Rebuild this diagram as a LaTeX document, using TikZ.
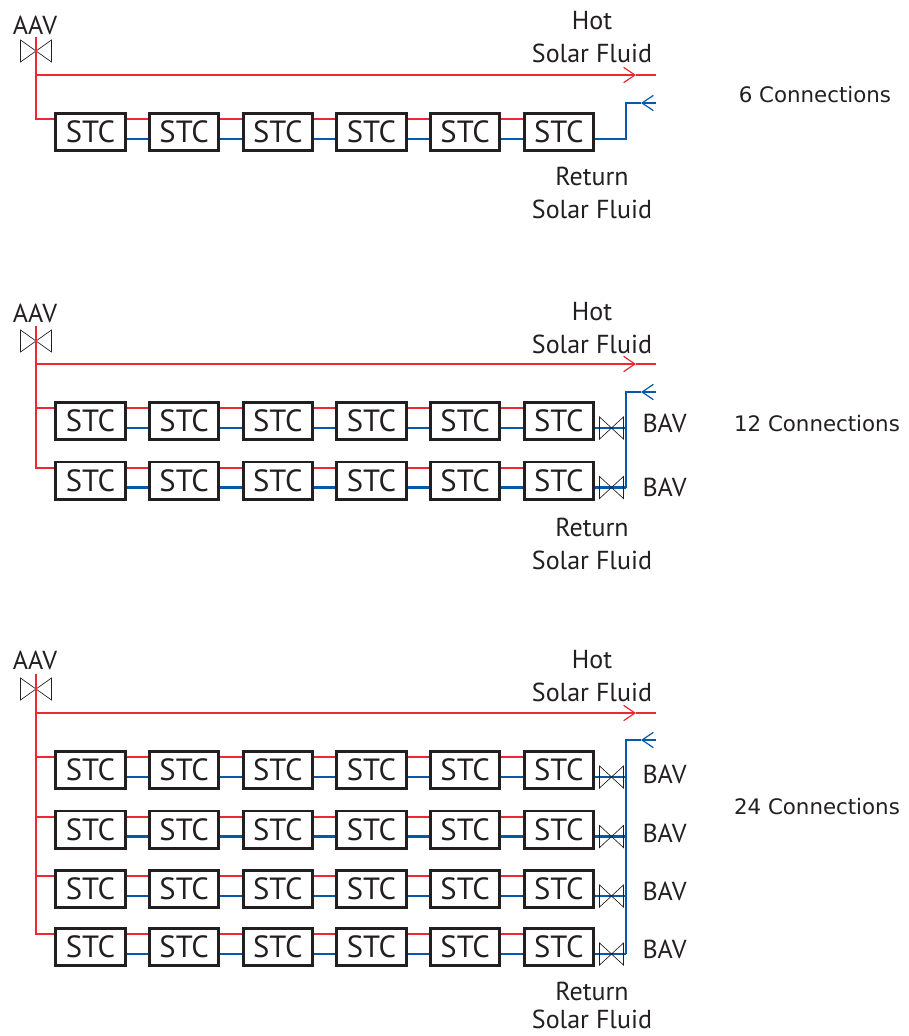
\documentclass[tikz,border=0pt]{standalone}
\usepackage{fontspec}
\setmainfont{PT Sans}
\newfontfamily\connfont{DejaVu Sans}
\usepackage{xcolor}
\usetikzlibrary{arrows.meta,positioning,calc}
\definecolor{hotred}{RGB}{237, 40, 52}
\definecolor{coldblue}{RGB}{5, 88, 170}
\definecolor{inkgrey}{RGB}{35, 31, 32}

% one row of six collectors, #1 = row name, #2 = y of the row centre
\newcommand{\stcrow}[2]{
    \node[stcbox] (#1a) at (90.5,#2) {STC};
    \node[stcbox, right=of #1a] (#1b) {STC};
    \node[stcbox, right=of #1b] (#1c) {STC};
    \node[stcbox, right=of #1c] (#1d) {STC};
    \node[stcbox, right=of #1d] (#1e) {STC};
    \node[stcbox, right=of #1e] (#1f) {STC};
    \foreach \p/\q in {a/b,b/c,c/d,d/e,e/f} {
      \draw[hotline] ([yshift=9.75pt]#1\p.east) -- ([yshift=9.75pt]#1\q.west);
      \draw[coldline] ([yshift=-5.25pt]#1\p.east) -- ([yshift=-5.25pt]#1\q.west);
    }
}
% balancing valve between a row and the return line
\newcommand{\bavrow}[3]{
    \coordinate (#1out) at ([yshift=-5.25pt]#1f.east);
    \draw[coldline] (#1out) -- (#1out -| #2);
    \pic[xscale=0.77] at ([xshift=12.4pt]#1out) {valve};
    \node[lbl] (#1bav) at (664.5,#3) {BAV};
}

\begin{document}
\begin{tikzpicture}[x=0.75pt, y=-0.75pt, node distance=16.05pt, >={Straight Barb[length=8.5pt,width=11.5pt,line width=0.9pt]},
    stcbox/.style={draw=inkgrey, line width=2.2pt, minimum width=52pt, minimum height=27.8pt, inner sep=0pt, text=inkgrey, font=\fontsize{23}{23}\selectfont},
    lbl/.style={inner sep=0pt, text=inkgrey, font=\fontsize{19.5}{19.5}\selectfont},
    conn/.style={inner sep=0pt, text=inkgrey, font=\connfont\fontsize{16}{16}\selectfont},
    hotline/.style={draw=hotred, line width=1.5pt},
    coldline/.style={draw=coldblue, line width=1.6pt},
    valve/.pic={\draw[inkgrey, line width=0.5pt] (-15.5,-11) -- (15.5,11) -- (15.5,-11) -- (-15.5,11) -- cycle;}]
    \useasboundingbox (0,0) rectangle (909,1036);

    % 6 connections
    \stcrow{ar}{132}
    \node[lbl] (aav1) at (35,25.5) {AAV};
    \node[lbl] (hot1) at (592,20.5) {Hot};
    \node[lbl] (hotfl1) at (592,53.5) {Solar Fluid};
    \node[lbl] (ret1) at (592,176.5) {Return};
    \node[lbl] (retfl1) at (592,209.5) {Solar Fluid};
    \node[conn] (conn1) at (815,95) {6 Connections};
    \pic at (36,51) {valve};
    \coordinate (top1) at (35.5,37);
    \coordinate (tee1) at (35.5,75);
    \coordinate (hottip1) at (636,75);
    \coordinate (hotend1) at (656,75);
    \coordinate (retend1) at (656,103);
    \coordinate (rettip1) at (641,103);
    \coordinate (retcor1) at (626,103);
    \draw[hotline] (top1) |- ([yshift=9.75pt]ara.west);
    \draw[hotline, ->] (tee1) -- (hottip1);
    \draw[hotline] (hottip1) -- (hotend1);
    \draw[coldline, ->] (retend1) -- (rettip1);
    \draw[coldline] (rettip1) -- (retcor1) |- ([yshift=-5.25pt]arf.east);

    % 12 connections
    \stcrow{br}{421}
    \stcrow{cr}{480.5}
    \node[lbl] (aav2) at (35,313.5) {AAV};
    \node[lbl] (hot2) at (592,311.5) {Hot};
    \node[lbl] (hotfl2) at (592,344.5) {Solar Fluid};
    \node[lbl] (ret2) at (592,527.5) {Return};
    \node[lbl] (retfl2) at (592,560.5) {Solar Fluid};
    \node[conn] (conn2) at (817,424) {12 Connections};
    \pic at (36,341) {valve};
    \coordinate (top2) at (35.5,326);
    \coordinate (tee2) at (35.5,364);
    \coordinate (hottip2) at (636,364);
    \coordinate (hotend2) at (656,364);
    \coordinate (retend2) at (656,392);
    \coordinate (rettip2) at (641,392);
    \coordinate (retcor2) at (626,392);
    \draw[hotline] (top2) |- ([yshift=9.75pt]cra.west);
    \draw[hotline] (top2 |- bra.west) ++(0,-13) -- ([yshift=9.75pt]bra.west);
    \draw[hotline, ->] (tee2) -- (hottip2);
    \draw[hotline] (hottip2) -- (hotend2);
    \draw[coldline, ->] (retend2) -- (rettip2);
    \bavrow{br}{retcor2}{423.5}
    \bavrow{cr}{retcor2}{487.5}
    \draw[coldline] (rettip2) -- (retcor2) -- (retcor2 |- crout);

    % 24 connections
    \stcrow{dr}{770}
    \stcrow{er}{829.5}
    \stcrow{fr}{889}
    \stcrow{gr}{947}
    \node[lbl] (aav3) at (35,660.5) {AAV};
    \node[lbl] (hot3) at (592,659.5) {Hot};
    \node[lbl] (hotfl3) at (592,692.5) {Solar Fluid};
    \node[lbl] (ret3) at (592,991.5) {Return};
    \node[lbl] (retfl3) at (592,1019.5) {Solar Fluid};
    \node[conn] (conn3) at (817,807) {24 Connections};
    \pic at (36,689) {valve};
    \coordinate (top3) at (35.5,674);
    \coordinate (tee3) at (35.5,713);
    \coordinate (hottip3) at (636,713);
    \coordinate (hotend3) at (656,713);
    \coordinate (retend3) at (656,740);
    \coordinate (rettip3) at (641,740);
    \coordinate (retcor3) at (626,740);
    \draw[hotline] (top3) |- ([yshift=9.75pt]gra.west);
    \draw[hotline] (top3 |- dra.west) ++(0,-13) -- ([yshift=9.75pt]dra.west);
    \draw[hotline] (top3 |- era.west) ++(0,-13) -- ([yshift=9.75pt]era.west);
    \draw[hotline] (top3 |- fra.west) ++(0,-13) -- ([yshift=9.75pt]fra.west);
    \draw[hotline, ->] (tee3) -- (hottip3);
    \draw[hotline] (hottip3) -- (hotend3);
    \draw[coldline, ->] (retend3) -- (rettip3);
    \bavrow{dr}{retcor3}{774.5}
    \bavrow{er}{retcor3}{833.5}
    \bavrow{fr}{retcor3}{891.5}
    \bavrow{gr}{retcor3}{949.5}
    \draw[coldline] (rettip3) -- (retcor3) -- (retcor3 |- grout);
\end{tikzpicture}
\end{document}
